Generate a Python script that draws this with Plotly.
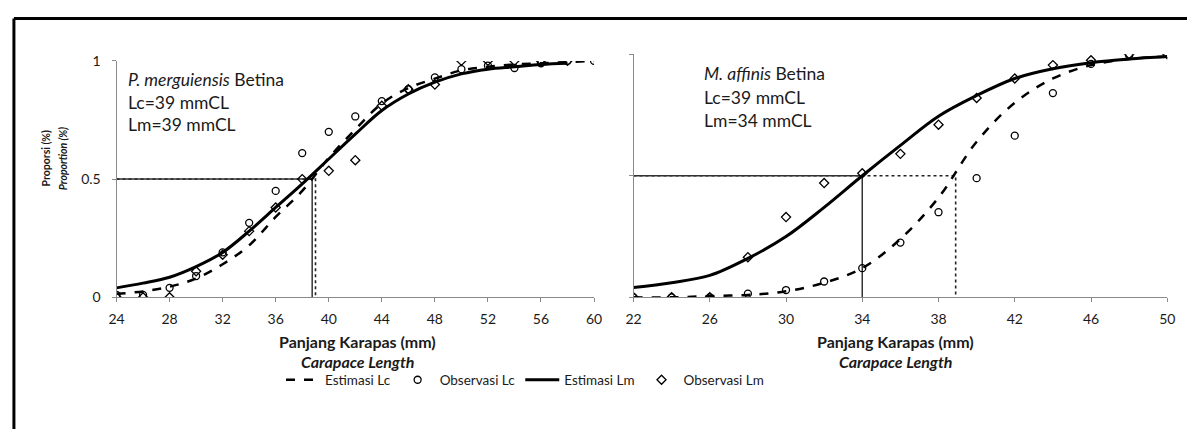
import plotly.graph_objects as go

W, H = 1195, 437

# ---- left panel: P. merguiensis Betina ----
left_x = [24, 26, 28, 30, 32, 34, 36, 38, 40, 42, 44, 46, 48, 50, 52, 54, 56, 58, 60]
left_obs_lc = [0.01, 0.01, 0.04, 0.09, 0.19, 0.315, 0.45, 0.61, 0.70, 0.765, 0.83, 0.88,
               0.93, 0.965, 0.98, 0.97, 0.99, 1.0, 1.0]
left_obs_lm = [0.0, 0.0, 0.0, 0.11, 0.18, 0.28, 0.38, 0.50, 0.535, 0.58, 0.81, 0.88,
               0.90, 1.0, 1.0, 1.0, 1.0, 1.0, None]
left_est_lc = [0.015, 0.025, 0.045, 0.08, 0.14, 0.22, 0.34, 0.45, 0.59, 0.71, 0.82, 0.885,
               0.925, 0.96, 0.975, 0.985, 0.99, 0.995, 1.0]
left_est_lm = [0.04, 0.06, 0.085, 0.13, 0.19, 0.28, 0.38, 0.48, 0.585, 0.69, 0.79, 0.86,
               0.91, 0.945, 0.965, 0.975, 0.985, 0.99, None]
left_lc50 = 39.0
left_lm50 = 38.75
left_ticks = [24, 28, 32, 36, 40, 44, 48, 52, 56, 60]

# ---- right panel: M. affinis Betina ----
right_x = [22, 24, 26, 28, 30, 32, 34, 36, 38, 40, 42, 44, 46, 48, 50]
right_obs_lc = [0.0, 0.0, 0.0, 0.015, 0.03, 0.065, 0.12, 0.225, 0.35, 0.49, 0.665, 0.84,
                0.96, 0.995, 1.0]
right_obs_lm = [0.0, 0.0, 0.0, 0.165, 0.33, 0.47, 0.51, 0.59, 0.71, 0.82, 0.90, 0.955,
                0.975, 1.0, 1.0]
right_est_lc = [0.0, 0.0, 0.005, 0.01, 0.025, 0.06, 0.12, 0.24, 0.41, 0.64, 0.80, 0.90,
                0.955, 0.98, 0.99]
right_est_lm = [0.04, 0.06, 0.09, 0.16, 0.25, 0.37, 0.50, 0.625, 0.745, 0.83, 0.90, 0.94,
                0.965, 0.98, 0.99]
right_lc50 = 38.9
right_lm50 = 34.0
right_ticks = [22, 26, 30, 34, 38, 42, 46, 50]

FONT = "Lato"
INK = "#1a1a1a"
AXIS = "#8a8a8a"


def px_x(p):
    return p / W


def px_y(p):
    return 1 - p / H


fig = go.Figure()


def add_panel(xa, ya, x, est_lc, obs_lc, est_lm, obs_lm, lc50, lm50, legend):
    x0 = x[0]
    # 50% reference lines: dotted for Lc, solid for Lm
    fig.add_trace(go.Scatter(x=[x0, lc50, lc50], y=[0.5, 0.5, 0], mode="lines",
                             line=dict(color="#222", width=1.6, dash="dot"),
                             xaxis=xa, yaxis=ya, showlegend=False, hoverinfo="skip"))
    fig.add_trace(go.Scatter(x=[x0, lm50, lm50], y=[0.5, 0.5, 0], mode="lines",
                             line=dict(color="#333", width=1.5),
                             xaxis=xa, yaxis=ya, showlegend=False, hoverinfo="skip"))
    fig.add_trace(go.Scatter(x=x, y=est_lc, mode="lines", name="Estimasi Lc",
                             line=dict(color="black", width=2.5, dash="dash", shape="spline"),
                             xaxis=xa, yaxis=ya, showlegend=legend))
    fig.add_trace(go.Scatter(x=x, y=obs_lc, mode="markers", name="Observasi Lc",
                             marker=dict(symbol="circle-open", size=7, color="black",
                                         line=dict(width=1.3)),
                             xaxis=xa, yaxis=ya, showlegend=legend))
    fig.add_trace(go.Scatter(x=x, y=est_lm, mode="lines", name="Estimasi Lm",
                             line=dict(color="black", width=3, shape="spline"),
                             xaxis=xa, yaxis=ya, showlegend=legend))
    fig.add_trace(go.Scatter(x=x, y=obs_lm, mode="markers", name="Observasi Lm",
                             marker=dict(symbol="diamond-open", size=7, color="black",
                                         line=dict(width=1.3)),
                             xaxis=xa, yaxis=ya, showlegend=legend))


add_panel("x", "y", left_x, left_est_lc, left_obs_lc, left_est_lm, left_obs_lm,
          left_lc50, left_lm50, True)
add_panel("x2", "y2", right_x, right_est_lc, right_obs_lc, right_est_lm, right_obs_lm,
          right_lc50, right_lm50, False)

axis_common = dict(showgrid=False, zeroline=False, showline=True, linecolor=AXIS,
                   linewidth=1, ticks="outside", tickcolor=AXIS, ticklen=4,
                   tickfont=dict(family=FONT, size=14, color=INK))

fig.update_layout(
    width=W, height=H,
    margin=dict(l=0, r=0, t=0, b=0),
    paper_bgcolor="white", plot_bgcolor="white",
    font=dict(family=FONT, color=INK),
    xaxis=dict(domain=[px_x(110), px_x(594)], range=[24, 60], tickvals=left_ticks,
               anchor="y", ticklabelstandoff=5, **axis_common),
    yaxis=dict(domain=[px_y(300), px_y(54)], range=[0, 1], tickvals=[0, 0.5, 1],
               anchor="x", ticklabelstandoff=8, **axis_common),
    xaxis2=dict(domain=[px_x(634), px_x(1175)], range=[22, 50], tickvals=right_ticks,
                anchor="y2", ticklabelstandoff=5, **axis_common),
    yaxis2=dict(domain=[px_y(300), px_y(47)], range=[0, 1], tickvals=[0, 0.5, 1],
                showticklabels=False, anchor="x2", **axis_common),
    legend=dict(orientation="h", x=px_x(524), xanchor="center", y=px_y(386),
                yanchor="middle", font=dict(family=FONT, size=13.5, color=INK),
                itemwidth=34, tracegroupgap=0, bgcolor="rgba(0,0,0,0)"),
    showlegend=True,
)


def note(text, x, y, size=17.5, angle=0, xanchor="left"):
    fig.add_annotation(text=text, x=px_x(x), y=px_y(y), xref="paper", yref="paper",
                       showarrow=False, xanchor=xanchor, yanchor="middle",
                       textangle=angle, font=dict(family=FONT, size=size, color=INK))


note("<i>P. merguiensis</i> Betina", 120, 73)
note("Lc=39 mmCL", 120, 97)
note("Lm=39 mmCL", 120, 120)
note("<i>M. affinis</i> Betina", 703, 67)
note("Lc=39 mmCL", 703, 92)
note("Lm=34 mmCL", 703, 116)

# axis titles (two lines each, Indonesian / English)
note("<b>Panjang Karapas (mm)</b>", 354, 346, size=16, xanchor="center")
note("<b><i>Carapace Length</i></b>", 354, 367, size=16, xanchor="center")
note("<b>Panjang Karapas (mm)</b>", 900, 346, size=16, xanchor="center")
note("<b><i>Carapace Length</i></b>", 900, 367, size=16, xanchor="center")

note("<b>Proporsi (%)</b>", 38, 155, size=10.5, angle=-90, xanchor="center")
note("<b><i>Proportion (%)</i></b>", 56, 155, size=10.5, angle=-90, xanchor="center")

# outer frame (top and left edges visible in the original)
fig.add_shape(type="line", xref="paper", yref="paper", x0=px_x(6), x1=1, y0=px_y(10),
              y1=px_y(10), line=dict(color="black", width=3))
fig.add_shape(type="line", xref="paper", yref="paper", x0=px_x(6), x1=px_x(6), y0=px_y(10),
              y1=0, line=dict(color="black", width=3))

fig.write_html("out.html", config={"displayModeBar": False},
               post_script="document.body.style.margin='0px';")
